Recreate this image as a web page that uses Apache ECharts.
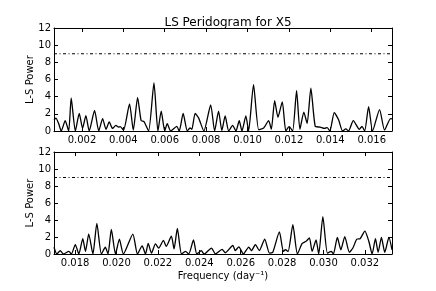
<!DOCTYPE html>
<html>
<head>
<meta charset="utf-8">
<script src="https://cdn.jsdelivr.net/npm/echarts@6/dist/echarts.min.js"></script>
<style>
html,body{margin:0;padding:0;background:#fff;}
#chart{width:436px;height:291px;}
</style>
</head>
<body>
<div id="chart"></div>
<script>
// ---- data ----
const titleText = "LS Peridogram for X5";
const yName = "L-S Power";
const xName = "Frequency (day\u207B\u00B9)";
const thresholdLevel = 9;
const topRange = [0.00065, 0.01698];
const botRange = [0.01698, 0.03331];
const topTicks = [0.002, 0.004, 0.006, 0.008, 0.010, 0.012, 0.014, 0.016];
const botTicks = [0.018, 0.020, 0.022, 0.024, 0.026, 0.028, 0.030, 0.032];
const yTicks = [0, 2, 4, 6, 8, 10, 12];

const topFreq = [0.00065,0.00074,0.00087,0.00100,0.00119,0.00136,0.00148,0.00168,0.00187,0.00203,
0.00219,0.00235,0.00261,0.00281,0.00300,0.00316,0.00332,0.00348,0.00364,0.00377,
0.00385,0.00401,0.00430,0.00448,0.00469,0.00486,0.00500,0.00522,0.00548,0.00567,
0.00583,0.00600,0.00612,0.00629,0.00658,0.00670,0.00689,0.00709,0.00722,0.00731,
0.00747,0.00764,0.00789,0.00822,0.00841,0.00860,0.00876,0.00892,0.00909,0.00928,
0.00944,0.00960,0.00973,0.00992,0.01005,0.01029,0.01054,0.01078,0.01102,0.01115,
0.01131,0.01147,0.01168,0.01185,0.01201,0.01218,0.01237,0.01253,0.01272,0.01288,
0.01306,0.01327,0.01351,0.01372,0.01385,0.01398,0.01419,0.01440,0.01459,0.01475,
0.01488,0.01511,0.01540,0.01553,0.01566,0.01585,0.01604,0.01638,0.01662,0.01691,0.01698];
const topPower = [1.3,1.5,0.9,0,1.2,0,3.85,0,2.05,0.3,
1.8,0,2.4,0,1.45,0.2,1.05,0.3,0.65,0.45,
0.5,0.1,3.15,0.1,3.9,1.2,1.1,0,5.6,0,
2.3,0,0.85,0,0.55,0,2.05,0,0.35,0.2,
2.05,1.5,0,3.05,0,2.3,0.05,1.75,0,0.65,
0,1.2,0,1.75,0,5.4,0.15,0.35,1.2,0.2,
3.55,1.6,3.4,0,0.5,0,4.7,0.2,2.2,0.9,
5.0,0.55,0.45,0.3,0.4,0,2.15,1.3,0,0.25,
0,1.2,0.2,0.55,0,2.85,0,2.5,0.1,1.45,1.4];

const botFreq = [0.01698,0.01712,0.01728,0.01743,0.01770,0.01782,0.01801,0.01818,0.01837,0.01850,
0.01866,0.01886,0.01905,0.01927,0.01946,0.01959,0.01975,0.01995,0.02014,0.02033,
0.02079,0.02101,0.02124,0.02140,0.02153,0.02169,0.02188,0.02204,0.02227,0.02240,
0.02265,0.02278,0.02294,0.02314,0.02333,0.02349,0.02372,0.02388,0.02410,0.02423,
0.02459,0.02478,0.02510,0.02526,0.02562,0.02574,0.02591,0.02613,0.02639,0.02652,
0.02671,0.02690,0.02716,0.02739,0.02755,0.02787,0.02806,0.02816,0.02829,0.02852,
0.02874,0.02897,0.02916,0.02932,0.02945,0.02964,0.02977,0.02997,0.03019,0.03038,
0.03048,0.03067,0.03084,0.03103,0.03125,0.03142,0.03161,0.03177,0.03200,0.03219,
0.03235,0.03251,0.03264,0.03280,0.03296,0.03316,0.03331];
const botPower = [0.8,0,0.4,0,0.3,0,1.1,0,1.8,0.3,
2.35,0,3.6,0,0.8,0,2.9,0,1.75,0,
2.35,0,0.95,0,1.25,0.1,1.2,0.7,1.6,0.9,
2.1,0.6,3.0,0,0.3,0,1.65,0,0.4,0,
0.7,0,0.55,0.15,1.0,0.4,0.85,0,0.8,0.4,
1.1,0.4,1.75,0.1,0.2,2.6,0.3,0.5,0.3,3.45,
0,1.25,1.5,1.9,0.3,1.65,0,4.4,0.1,0.3,
0,1.95,0.5,2.05,0.2,0.7,1.75,1.8,2.7,1.5,
0,1.8,0.2,1.95,0.2,1.95,0.5];

// ---- chart ----
const FONT = "DejaVu Sans";
const pairs = (xs, ys) => xs.map((x, i) => [x, ys[i]]);
const grids = [
  {left: 54, right: 44, top: 28, height: 103},
  {left: 54, right: 44, top: 152, height: 102}
];
function xAxes(gi, range, ticks, showLabels, pos) {
  return {
    type: 'value', gridIndex: gi, position: pos, min: range[0], max: range[1],
    axisLine: {show: true, onZero: false, lineStyle: {color: '#000', width: 1}},
    axisTick: {show: true, inside: true, length: 4, customValues: ticks, lineStyle: {color: '#000'}},
    axisLabel: {show: showLabels, customValues: ticks, margin: 4, color: '#000', fontFamily: FONT, fontSize: 10,
      formatter: v => v.toFixed(3)},
    splitLine: {show: false}
  };
}
function yAxes(gi, showLabels, pos) {
  return {
    type: 'value', gridIndex: gi, position: pos, min: 0, max: 12, interval: 2,
    name: showLabels ? yName : '', nameLocation: 'middle', nameGap: 19, nameRotate: 90,
    nameMoveOverlap: false,
    nameTextStyle: {color: '#000', fontFamily: FONT, fontSize: 10},
    axisLine: {show: true, onZero: false, lineStyle: {color: '#000', width: 1}},
    axisTick: {show: true, inside: true, length: 4, lineStyle: {color: '#000'}},
    axisLabel: {show: showLabels, margin: 3, color: '#000', fontFamily: FONT, fontSize: 10},
    splitLine: {show: false}
  };
}
const bottomX = xAxes(1, botRange, botTicks, true, 'bottom');
bottomX.name = xName; bottomX.nameLocation = 'middle'; bottomX.nameGap = 17;
bottomX.nameTextStyle = {color: '#000', fontFamily: FONT, fontSize: 10};

function curve(xi, yi, xs, ys) {
  return {type: 'line', xAxisIndex: xi, yAxisIndex: yi, data: pairs(xs, ys), smooth: 0.2,
    showSymbol: false, clip: true, lineStyle: {color: '#000', width: 1.3}, animation: false};
}
function thresh(xi, yi, range) {
  return {type: 'line', xAxisIndex: xi, yAxisIndex: yi,
    data: [[range[0], thresholdLevel], [range[1], thresholdLevel]], showSymbol: false,
    lineStyle: {color: '#000', width: 1, type: [3, 2.5, 1, 2.5]}, animation: false};
}

const chart = echarts.init(document.getElementById('chart'), null, {renderer: 'canvas'});
chart.setOption({
  animation: false,
  backgroundColor: '#fff',
  title: {text: titleText, left: 223, top: 12, textAlign: 'center',
    textStyle: {color: '#000', fontFamily: FONT, fontSize: 12, fontWeight: 'normal'}},
  grid: grids,
  xAxis: [
    xAxes(0, topRange, topTicks, true, 'bottom'),
    xAxes(0, topRange, topTicks, false, 'top'),
    bottomX,
    xAxes(1, botRange, botTicks, false, 'top')
  ],
  yAxis: [
    yAxes(0, true, 'left'),
    yAxes(0, false, 'right'),
    yAxes(1, true, 'left'),
    yAxes(1, false, 'right')
  ],
  series: [
    thresh(0, 0, topRange),
    curve(0, 0, topFreq, topPower),
    thresh(2, 2, botRange),
    curve(2, 2, botFreq, botPower)
  ]
});
</script>
</body>
</html>
